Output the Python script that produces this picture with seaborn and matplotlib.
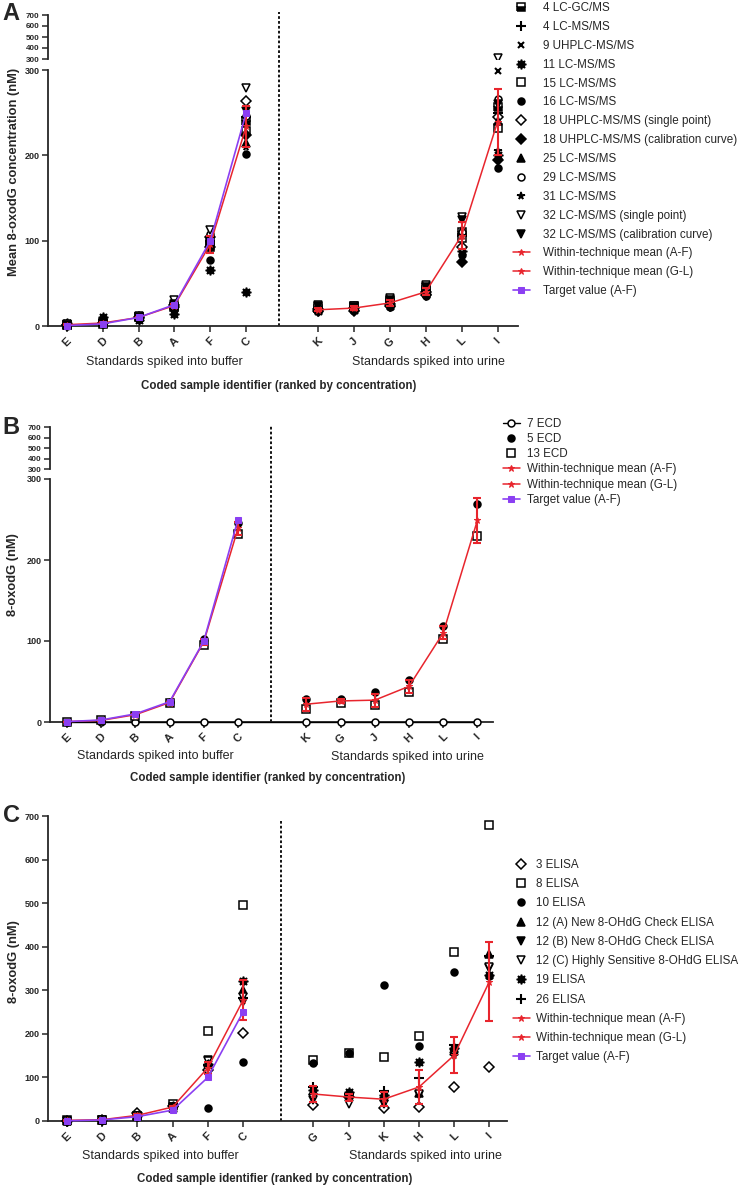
import numpy as np
import matplotlib
matplotlib.use('Agg')
import matplotlib.pyplot as plt
import seaborn as sns

sns.set_style('ticks')
plt.rcParams['font.family'] = ['Liberation Sans', 'DejaVu Sans']

# ---- sample codes (ranked by concentration) ----
buffer_codes = ['E', 'D', 'B', 'A', 'F', 'C']
urine_codes_a = ['K', 'J', 'G', 'H', 'L', 'I']
urine_codes_b = ['K', 'G', 'J', 'H', 'L', 'I']
urine_codes_c = ['G', 'J', 'K', 'H', 'L', 'I']

# target values for the buffer standards
target = [0.5, 2.5, 10, 25, 100, 250]

# ---- panel A: LC-MS/MS type labs (6 buffer then 6 urine values) ----
a_4_lcgc = [1, 3, 10, 24, 97, 240, 20, 22, 28, 42, 110, 257]
a_4_lcms = [1, 3, 11, 25, 100, 245, 21, 22, 28, 41, 105, 250]
a_9_uhplc = [1, 3, 10, 24, 98, 236, 20, 21, 27, 42, 108, 299]
a_11_lcms = [4, 10, 7, 14, 66, 40, 17, 19, 24, 38, 88, 200]
a_15_lcms = [1, 2, 11, 22, 93, 228, 22, 23, 30, 46, 103, 232]
a_16_lcms = [0.5, 2, 8, 20, 77, 201, 17, 19, 22, 35, 83, 185]
a_18_single = [1, 3, 10, 25, 104, 264, 20, 21, 26, 40, 93, 245]
a_18_calib = [1, 3, 9, 22, 92, 224, 17, 18, 23, 36, 75, 195]
a_25_lcms = [1, 3, 10, 24, 94, 214, 23, 23, 28, 44, 112, 240]
a_29_lcms = [1, 3, 10, 26, 108, 246, 21, 21, 27, 41, 110, 266]
a_31_lcms = [1, 3, 10, 25, 95, 210, 20, 21, 26, 40, 106, 205]
a_32_single = [2, 4, 12, 31, 112, 279, 25, 24, 33, 48, 128, 312]
a_32_calib = [1, 3, 10, 26, 100, 252, 23, 22, 30, 46, 124, 260]
a_mean_buf = [1.5, 3.5, 10, 24, 96, 234]
a_sd_buf = [0.5, 1, 1, 2, 10, 24]
a_mean_uri = [19, 21, 27, 40, 106, 239]
a_sd_uri = [2, 2, 3, 4, 16, 39]

# ---- panel B: ECD labs ----
b_7_ecd = [0, 0, 0, 0, 0, 0, 0, 0, 0, 0, 0, 0]
b_5_ecd = [0.5, 2, 9, 25, 102, 246, 28, 28, 37, 52, 118, 269]
b_13_ecd = [0.5, 2, 8, 23, 95, 232, 16, 24, 21, 37, 102, 230]
b_mean_buf = [0.5, 2, 9, 24, 99, 239]
b_sd_buf = [0.1, 0.2, 0.5, 1, 4, 8]
b_mean_uri = [22, 26, 27, 44, 110, 249]
b_sd_uri = [8, 2, 8, 8, 8, 28]

# ---- panel C: ELISA labs ----
c_3_elisa = [1, 3, 18, 35, 118, 201, 37, 56, 30, 32, 79, 124]
c_8_elisa = [2, 3, 12, 39, 206, 496, 140, 156, 148, 195, 388, 679]
c_10_elisa = [1, 2, 10, 30, 29, 135, 133, 155, 312, 172, 343, 333]
c_12a_elisa = [1, 3, 12, 30, 132, 300, 70, 62, 55, 65, 160, 383]
c_12b_elisa = [1, 3, 12, 32, 140, 274, 48, 50, 40, 60, 150, 351]
c_12c_elisa = [1, 3, 12, 33, 138, 285, 52, 39, 45, 62, 155, 353]
c_19_elisa = [1, 3, 12, 34, 130, 322, 71, 67, 60, 135, 167, 335]
c_26_elisa = [1, 3, 12, 33, 128, 283, 78, 62, 70, 99, 175, 379]
c_mean_buf = [1.5, 3, 13, 32, 122, 277]
c_sd_buf = [0.5, 0.5, 2, 3, 14, 46]
c_mean_uri = [62, 55, 50, 78, 151, 320]
c_sd_uri = [18, 8, 16, 38, 41, 90]

RED = '#e8252d'
PURPLE = '#8b3ff2'
W, H = 750, 1189

pos_buf = np.arange(6)
pos_uri = np.arange(7, 13)
xpos = np.concatenate([pos_buf, pos_uri])


def mk(marker, fill='black', size=5.0, **extra):
    kw = dict(marker=marker, markersize=size, markerfacecolor=fill,
              markeredgecolor='black', markeredgewidth=1.1, linestyle='none')
    kw.update(extra)
    return kw


half_sq = mk('s', 'black', size=5.8, fillstyle='bottom', markerfacecoloralt='white')
plus = mk('+', size=6.5, markeredgewidth=1.5)
cross = mk('x', size=5, markeredgewidth=1.5)
burst = mk((8, 1, 0), size=7)
open_sq = mk('s', 'white', size=6)
dot = mk('o')
open_dia = mk('D', 'white', size=4.6)
dia = mk('D', size=4.6)
tri = mk('^', size=5.5)
open_o = mk('o', 'white')
star = mk('*', size=5.5)
open_tv = mk('v', 'white', size=5.8)
tv = mk('v', size=5.8)
ecd7 = mk('o', 'white', linestyle='-', linewidth=1.0)


def px_axes(fig, left, top, right, bottom):
    ax = fig.add_axes([left / W, 1 - bottom / H, (right - left) / W, (bottom - top) / H])
    ax.patch.set_alpha(0)
    return ax


def plot_lab(ax, y, label, kw, lo=None, hi=None, clip=False):
    y = np.asarray(y, float)
    keep = np.ones(len(y), bool)
    if lo is not None:
        keep &= y > lo
    if hi is not None:
        keep &= y <= hi
    if not keep.any():
        return
    sns.lineplot(x=xpos[keep], y=y[keep], ax=ax, label=label, legend=False,
                 errorbar=None, color='black', clip_on=clip, zorder=3, **kw)


def plot_means(ax, mean_buf, sd_buf, mean_uri, sd_uri):
    sns.lineplot(x=pos_buf, y=mean_buf, ax=ax, color=RED, lw=1.1, marker='*', ms=5,
                 markeredgecolor=RED, markerfacecolor=RED, label='Within-technique mean (A-F)',
                 legend=False, errorbar=None, zorder=4, clip_on=False)
    sns.lineplot(x=pos_uri, y=mean_uri, ax=ax, color=RED, lw=1.1, marker='*', ms=5,
                 markeredgecolor=RED, markerfacecolor=RED, label='Within-technique mean (G-L)',
                 legend=False, errorbar=None, zorder=4, clip_on=False)
    ax.errorbar(pos_buf, mean_buf, yerr=sd_buf, fmt='none', ecolor=RED, elinewidth=1.5,
                capsize=3, capthick=1.5, zorder=4, clip_on=False)
    ax.errorbar(pos_uri, mean_uri, yerr=sd_uri, fmt='none', ecolor=RED, elinewidth=1.5,
                capsize=3, capthick=1.5, zorder=4, clip_on=False)
    sns.lineplot(x=pos_buf, y=target, ax=ax, color=PURPLE, lw=1.2, marker='s', ms=5,
                 markeredgecolor=PURPLE, markerfacecolor=PURPLE, label='Target value (A-F)',
                 legend=False, errorbar=None, zorder=5, clip_on=False)


def style_lower(ax, xlim, ylim, yticks, codes, dash_x, dash_top):
    ax.set_xlim(*xlim)
    ax.set_ylim(*ylim)
    ax.set_yticks(yticks)
    ax.set_xticks(xpos)
    ax.set_xticklabels(codes, rotation=45, fontsize=8, fontweight='bold')
    for t in ax.get_yticklabels():
        t.set_fontweight('bold')
        t.set_fontsize(6.5)
    ax.tick_params(axis='both', length=4, width=1.1, pad=2)
    ax.tick_params(axis='x', pad=3)
    for s in ['top', 'right']:
        ax.spines[s].set_visible(False)
    for s in ['left', 'bottom']:
        ax.spines[s].set_linewidth(1.3)
    ax.set_xlabel('')
    ax.set_ylabel('')
    ax.axvline(dash_x, ymin=0, ymax=dash_top, color='black', lw=1.3,
               linestyle=(0, (1.5, 1.2)), clip_on=False)


def style_upper(ax, xlim):
    ax.set_xlim(*xlim)
    ax.set_ylim(300, 700)
    ax.set_yticks([300, 400, 500, 600, 700])
    ax.xaxis.set_visible(False)
    for s in ['top', 'right', 'bottom']:
        ax.spines[s].set_visible(False)
    ax.spines['left'].set_linewidth(1.3)
    ax.tick_params(axis='y', length=4, width=1.1, pad=2)
    for t in ax.get_yticklabels():
        t.set_fontweight('bold')
        t.set_fontsize(5.8)
    ax.set_xlabel('')
    ax.set_ylabel('')


def ftext(fig, x, y, s, **kw):
    fig.text(x / W, 1 - y / H, s, ha='center', va='center', **kw)


fig = plt.figure(figsize=(7.5, 11.89), dpi=100)

# ================= Panel A =================
sp = 35.9
xl_a = ((48 - 66.7) / sp, (518 - 66.7) / sp)
axA = px_axes(fig, 48, 70, 518, 326)
axAu = px_axes(fig, 48, 15, 518, 59)
labs_a = [
    ('4 LC-GC/MS', a_4_lcgc, half_sq),
    ('4 LC-MS/MS', a_4_lcms, plus),
    ('9 UHPLC-MS/MS', a_9_uhplc, cross),
    ('11 LC-MS/MS', a_11_lcms, burst),
    ('15 LC-MS/MS', a_15_lcms, open_sq),
    ('16 LC-MS/MS', a_16_lcms, dot),
    ('18 UHPLC-MS/MS (single point)', a_18_single, open_dia),
    ('18 UHPLC-MS/MS (calibration curve)', a_18_calib, dia),
    ('25 LC-MS/MS', a_25_lcms, tri),
    ('29 LC-MS/MS', a_29_lcms, open_o),
    ('31 LC-MS/MS', a_31_lcms, star),
    ('32 LC-MS/MS (single point)', a_32_single, open_tv),
    ('32 LC-MS/MS (calibration curve)', a_32_calib, tv),
]
for lab, vals, kw in labs_a:
    plot_lab(axA, vals, lab, kw, hi=300)
    plot_lab(axAu, vals, None, kw, lo=300, clip=True)
plot_means(axA, a_mean_buf, a_sd_buf, a_mean_uri, a_sd_uri)
style_lower(axA, xl_a, (0, 300), [0, 100, 200, 300], buffer_codes + urine_codes_a,
            5.9, (326 - 12) / 256)
style_upper(axAu, xl_a)
h, l = axA.get_legend_handles_labels()
fig.legend(h, l, loc='upper left', bbox_to_anchor=(513 / W, 1 - 2 / H), frameon=False,
           fontsize=8.4, labelspacing=0.59, handlelength=1.45, handletextpad=1.15,
           borderaxespad=0, borderpad=0)
ftext(fig, 14, 172, 'Mean 8-oxodG concentration (nM)', rotation=90, fontsize=9.3, fontweight='bold')
ftext(fig, 11, 14, 'A', fontsize=17, fontweight='bold')
ftext(fig, 164, 362, 'Standards spiked into buffer', fontsize=9)
ftext(fig, 428, 362, 'Standards spiked into urine', fontsize=9)
ftext(fig, 279, 386, 'Coded sample identifier (ranked by concentration)', fontsize=8.3, fontweight='bold')

# ================= Panel B =================
sp = 34.2
xl_b = ((50 - 67) / sp, (493 - 67) / sp)
axB = px_axes(fig, 50, 479, 493, 722)
axBu = px_axes(fig, 50, 427, 493, 469)
labs_b = [
    ('7 ECD', b_7_ecd, ecd7),
    ('5 ECD', b_5_ecd, dot),
    ('13 ECD', b_13_ecd, open_sq),
]
for lab, vals, kw in labs_b:
    plot_lab(axB, vals, lab, kw, hi=300)
plot_means(axB, b_mean_buf, b_sd_buf, b_mean_uri, b_sd_uri)
style_lower(axB, xl_b, (0, 300), [0, 100, 200, 300], buffer_codes + urine_codes_b,
            5.96, (722 - 425) / 243)
style_upper(axBu, xl_b)
h, l = axB.get_legend_handles_labels()
fig.legend(h, l, loc='upper left', bbox_to_anchor=(503 / W, 1 - 418 / H), frameon=False,
           fontsize=8.4, labelspacing=0.27, handlelength=1.45, handletextpad=0.6,
           borderaxespad=0, borderpad=0)
ftext(fig, 13, 575, '8-oxodG (nM)', rotation=90, fontsize=9.3, fontweight='bold')
ftext(fig, 11, 428, 'B', fontsize=17, fontweight='bold')
ftext(fig, 155, 756, 'Standards spiked into buffer', fontsize=9)
ftext(fig, 407, 757, 'Standards spiked into urine', fontsize=9)
ftext(fig, 268, 778, 'Coded sample identifier (ranked by concentration)', fontsize=8.3, fontweight='bold')

# ================= Panel C =================
sp = 35.2
xl_c = ((48 - 67) / sp, (507 - 67) / sp)
axC = px_axes(fig, 48, 816, 507, 1121)
labs_c = [
    ('3 ELISA', c_3_elisa, open_dia),
    ('8 ELISA', c_8_elisa, open_sq),
    ('10 ELISA', c_10_elisa, dot),
    ('12 (A) New 8-OHdG Check ELISA', c_12a_elisa, tri),
    ('12 (B) New 8-OHdG Check ELISA', c_12b_elisa, tv),
    ('12 (C) Highly Sensitive 8-OHdG ELISA', c_12c_elisa, open_tv),
    ('19 ELISA', c_19_elisa, burst),
    ('26 ELISA', c_26_elisa, plus),
]
for lab, vals, kw in labs_c:
    plot_lab(axC, vals, lab, kw)
plot_means(axC, c_mean_buf, c_sd_buf, c_mean_uri, c_sd_uri)
style_lower(axC, xl_c, (0, 700), [0, 100, 200, 300, 400, 500, 600, 700],
            buffer_codes + urine_codes_c, 6.08, (1121 - 821) / 305)
h, l = axC.get_legend_handles_labels()
fig.legend(h, l, loc='upper left', bbox_to_anchor=(513 / W, 1 - 859 / H), frameon=False,
           fontsize=8.4, labelspacing=0.62, handlelength=1.45, handletextpad=0.55,
           borderaxespad=0, borderpad=0)
ftext(fig, 14, 962, '8-oxodG (nM)', rotation=90, fontsize=9.3, fontweight='bold')
ftext(fig, 11, 815, 'C', fontsize=17, fontweight='bold')
ftext(fig, 160, 1156, 'Standards spiked into buffer', fontsize=9)
ftext(fig, 425, 1156, 'Standards spiked into urine', fontsize=9)
ftext(fig, 275, 1179, 'Coded sample identifier (ranked by concentration)', fontsize=8.3, fontweight='bold')

fig.savefig('out.png', dpi=100)
